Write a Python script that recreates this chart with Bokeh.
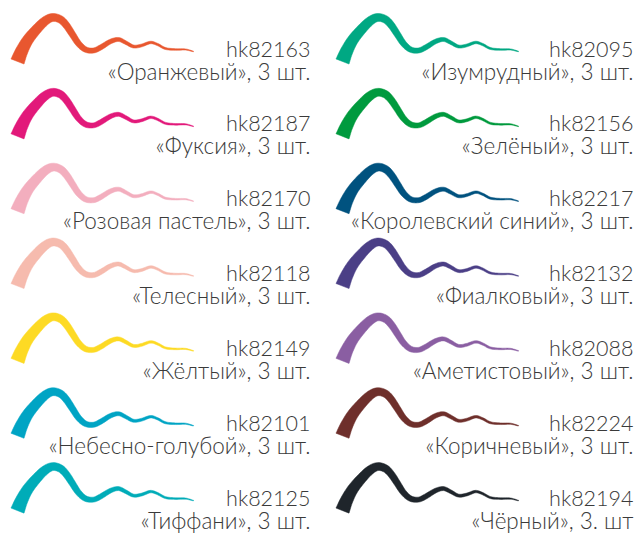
import numpy as np
from bokeh.plotting import figure
from bokeh.models import Range1d, ColumnDataSource
from bokeh.core.properties import value
from bokeh.embed import file_html
from bokeh.resources import INLINE

# ---- data ----
left_codes = ["hk82163", "hk82187", "hk82170", "hk82118", "hk82149", "hk82101", "hk82125"]
left_names = ["«Оранжевый», 3 шт.", "«Фуксия», 3 шт.", "«Розовая пастель», 3 шт.",
              "«Телесный», 3 шт.", "«Жёлтый», 3 шт.", "«Небесно-голубой», 3 шт.",
              "«Тиффани», 3 шт."]
left_colors = ["#E8572F", "#E2197A", "#F3AEBE", "#F6BBAE", "#FDDA24", "#00A4C4", "#00ACB8"]

right_codes = ["hk82095", "hk82156", "hk82217", "hk82132", "hk82088", "hk82224", "hk82194"]
right_names = ["«Изумрудный», 3 шт.", "«Зелёный», 3 шт.", "«Королевский синий», 3 шт.",
               "«Фиалковый», 3 шт.", "«Аметистовый», 3 шт.", "«Коричневый», 3 шт.",
               "«Чёрный», 3. шт"]
right_colors = ["#00A883", "#009A3E", "#00527F", "#4B3F86", "#8A5EA2", "#6E2F2B", "#1F252B"]

# brush-stroke template (centerline + width)
stroke_x = [17, 21, 27, 35, 44, 52, 60, 66, 72, 78, 85, 93, 100, 110, 118, 125, 133, 141, 150, 157, 165, 175, 185, 193]
stroke_y = [61, 51, 40, 30, 21, 17, 19, 25, 34, 43, 49, 50, 47, 41, 39, 42, 46, 45, 42, 44, 48, 49, 49, 51]
stroke_w = [14, 12.5, 11, 10, 9, 8, 7.5, 7, 6.5, 6, 5.5, 5, 5, 4.5, 4, 3.5, 3, 2.8, 2.5, 2.2, 2, 1.6, 1.2, 0.6]

ROW_PITCH = 74.85
COL_OFFSET = 325
TEXT_RIGHT = [310, 633]
CODE_BASE = 48
NAME_BASE = 70.5


def smooth(vals, k=6):
    """Catmull-Rom resampling of the stroke template for a smooth outline."""
    v = np.asarray(vals, float)
    pts = np.concatenate([[2 * v[0] - v[1]], v, [2 * v[-1] - v[-2]]])
    out = []
    for i in range(1, len(pts) - 2):
        p0, p1, p2, p3 = pts[i - 1], pts[i], pts[i + 1], pts[i + 2]
        for t in np.linspace(0, 1, k, endpoint=False):
            out.append(0.5 * ((2 * p1) + (-p0 + p2) * t +
                              (2 * p0 - 5 * p1 + 4 * p2 - p3) * t * t +
                              (-p0 + 3 * p1 - 3 * p2 + p3) * t ** 3))
    out.append(v[-1])
    return np.array(out)


def stroke_polygon(dx, dy):
    x = smooth(stroke_x)
    y = smooth(stroke_y)
    w = smooth(stroke_w)
    tx = np.gradient(x)
    ty = np.gradient(y)
    n = np.hypot(tx, ty)
    nx, ny = -ty / n, tx / n
    xa = x + nx * w / 2
    ya = y + ny * w / 2
    xb = x - nx * w / 2
    yb = y - ny * w / 2
    px = np.concatenate([xa, xb[::-1]]) + dx
    py = np.concatenate([ya, yb[::-1]]) + dy
    return list(px), list(py)


p = figure(width=641, height=534, output_backend="svg", toolbar_location=None,
           x_range=Range1d(0, 641), y_range=Range1d(534, 0), min_border=0,
           x_axis_type=None, y_axis_type=None)
p.grid.visible = False
p.outline_line_color = None
p.background_fill_color = "white"
p.border_fill_color = "white"

xs, ys, cs = [], [], []
tx, ty1, ty2, codes, names = [], [], [], [], []
for col, (cds, nms, cls) in enumerate([(left_codes, left_names, left_colors),
                                        (right_codes, right_names, right_colors)]):
    for r in range(len(cds)):
        px, py = stroke_polygon(col * COL_OFFSET, r * ROW_PITCH)
        xs.append(px); ys.append(py); cs.append(cls[r])
        tx.append(TEXT_RIGHT[col])
        ty1.append(CODE_BASE + r * ROW_PITCH)
        ty2.append(NAME_BASE + r * ROW_PITCH)
        codes.append(cds[r]); names.append(nms[r])

p.patches(xs=xs, ys=ys, fill_color=cs, line_color=cs, line_width=0.5)

src = ColumnDataSource(dict(x=tx, y1=ty1, y2=ty2, code=codes, name=names))
p.text(x="x", y="y1", text="code", source=src, text_align="right",
       text_baseline="alphabetic", text_font=value("Lato Light"),
       text_font_size="21.5px", text_color="#3A3A3A")
p.text(x="x", y="y2", text="name", source=src, text_align="right",
       text_baseline="alphabetic", text_font=value("Lato Light"),
       text_font_size="22.5px", text_color="#3A3A3A")

open("out.html", "w").write(file_html(p, INLINE))
